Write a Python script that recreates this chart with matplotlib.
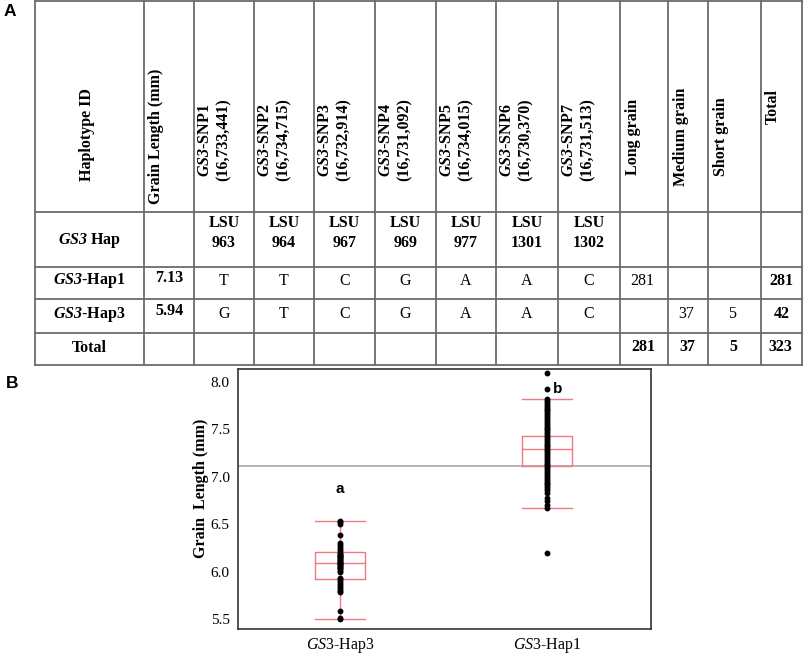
import numpy as np
import matplotlib.pyplot as plt

plt.rcParams['font.family'] = ['Liberation Serif', 'DejaVu Serif']
plt.rcParams['mathtext.fontset'] = 'custom'
plt.rcParams['mathtext.rm'] = 'Liberation Serif'
plt.rcParams['mathtext.it'] = 'Liberation Serif:italic'
plt.rcParams['mathtext.bf'] = 'Liberation Serif:bold'
plt.rcParams['mathtext.bfit'] = 'Liberation Serif:italic:bold'

# ---- table data (panel A)
snp_names = ['SNP1', 'SNP2', 'SNP3', 'SNP4', 'SNP5', 'SNP6', 'SNP7']
snp_pos = ['16,733,441', '16,734,715', '16,732,914', '16,731,092',
           '16,734,015', '16,730,370', '16,731,513']
lsu_ids = ['963', '964', '967', '969', '977', '1301', '1302']
hap_names = ['Hap1', 'Hap3']
hap_grain_len = ['7.13', '5.94']
hap1_alleles = ['T', 'T', 'C', 'G', 'A', 'A', 'C']
hap3_alleles = ['G', 'T', 'C', 'G', 'A', 'A', 'C']
long_grain = [281, None]
medium_grain = [None, 37]
short_grain = [None, 5]
hap_total = [281, 42]
col_totals = [281, 37, 5, 323]

# ---- box plot data (panel B)
groups = ['Hap3', 'Hap1']
hap3_len = [5.50, 5.51, 5.58, 5.78, 5.80, 5.82, 5.84, 5.86, 5.88, 5.90, 5.92,
            5.93, 6.00, 6.01, 6.03, 6.04, 6.05, 6.06, 6.07, 6.08, 6.09, 6.09,
            6.10, 6.11, 6.12, 6.13, 6.14, 6.15, 6.16, 6.17, 6.18, 6.19, 6.20,
            6.22, 6.24, 6.26, 6.28, 6.30, 6.39, 6.50, 6.52, 6.53]
hap1_len = [6.20, 6.67, 6.70, 6.74, 6.78, 6.83, 6.86, 6.88, 6.90, 6.92, 6.94,
            6.96, 6.98, 7.00, 7.02, 7.04, 7.06, 7.08, 7.10, 7.12, 7.14, 7.16,
            7.18, 7.20, 7.22, 7.24, 7.26, 7.28, 7.30, 7.32, 7.34, 7.36, 7.38,
            7.40, 7.42, 7.44, 7.46, 7.48, 7.50, 7.52, 7.54, 7.56, 7.58, 7.60,
            7.62, 7.64, 7.66, 7.68, 7.70, 7.72, 7.74, 7.76, 7.78, 7.80, 7.82,
            7.93, 8.10]
box_q1 = [5.92, 7.115]
box_med = [6.09, 7.29]
box_q3 = [6.21, 7.43]
whis_lo = [5.50, 6.67]
whis_hi = [6.53, 7.82]
sig_letters = ['a', 'b']
sig_y = [6.87, 7.93]
ref_line = 7.115

fig = plt.figure(figsize=(8.09, 6.54), dpi=100)

# table drawn in pixel coordinates
tab = fig.add_axes([0, 0, 1, 1])
tab.set_xlim(0, 809)
tab.set_ylim(654, 0)
tab.axis('off')

col_edges = [35, 144, 194, 254, 314, 375, 436, 496, 558, 620, 668, 708, 761, 802]
row_edges = [1, 212, 267, 299, 333, 365]
gc = '#6b6b6b'
for x in col_edges:
    tab.plot([x, x], [row_edges[0], row_edges[-1]], color=gc, lw=1.3)
for y in row_edges:
    tab.plot([col_edges[0], col_edges[-1]], [y, y], color=gc, lw=1.3)

fs = 11.5
centers = [(col_edges[i] + col_edges[i + 1]) / 2 for i in range(len(col_edges) - 1)]

# header row
tab.text(centers[0] - 2, 135, 'Haplotype ID', rotation=90, ha='center', va='center',
         fontsize=fs, fontweight='bold')
tab.text(col_edges[1] + 4, 136, 'Grain Length (mm)', rotation=90, ha='left',
         va='center', fontsize=fs, fontweight='bold')
for i, (nm, pos) in enumerate(zip(snp_names, snp_pos)):
    tab.text(col_edges[2 + i] + 3, 140, r'$\mathbfit{GS3}$-' + nm + '\n(' + pos + ')',
             rotation=90, ha='left', va='center', multialignment='center',
             fontsize=fs, fontweight='bold')
for j, lab in enumerate(['Long grain', 'Medium grain', 'Short grain']):
    tab.text(col_edges[9 + j] + 5, 137, lab, rotation=90, ha='left', va='center',
             fontsize=fs, fontweight='bold')
tab.text(col_edges[12] + 4, 107, 'Total', rotation=90, ha='left', va='center',
         fontsize=fs, fontweight='bold')

# GS3 Hap row
tab.text(centers[0], 241, r'$\mathbfit{GS3}$ Hap', ha='center', va='center',
         fontsize=fs, fontweight='bold')
for i, lsu in enumerate(lsu_ids):
    tab.text(centers[2 + i], 233, 'LSU\n' + lsu, ha='center', va='center',
             fontsize=fs, fontweight='bold', linespacing=1.4)

# haplotype rows
allele_rows = [hap1_alleles, hap3_alleles]
row_y = [281, 314]
for r in range(2):
    y = row_y[r]
    tab.text(centers[0], y, r'$\mathbfit{GS3}$-' + hap_names[r], ha='center',
             va='center', fontsize=fs, fontweight='bold')
    tab.text(centers[1], y - 3, hap_grain_len[r], ha='center', va='center',
             fontsize=fs, fontweight='bold')
    for i, a in enumerate(allele_rows[r]):
        tab.text(centers[2 + i], y, a, ha='center', va='center', fontsize=fs)
    for j, v in enumerate([long_grain[r], medium_grain[r], short_grain[r]]):
        if v is not None:
            tab.text(centers[9 + j] - 2, y, str(v), ha='center', va='center', fontsize=fs)
    tab.text(centers[12], y, str(hap_total[r]), ha='center', va='center',
             fontsize=fs, fontweight='bold')

# total row
tab.text(centers[0], 348, 'Total', ha='center', va='center', fontsize=fs,
         fontweight='bold')
for j, v in enumerate(col_totals):
    tab.text(centers[9 + j] - 1, 347, str(v), ha='center', va='center',
             fontsize=fs, fontweight='bold')

# panel labels
tab.text(10, 12, 'A', ha='center', va='center', fontsize=12.5, fontweight='bold',
         family='Liberation Sans')
tab.text(12, 383, 'B', ha='center', va='center', fontsize=12.5, fontweight='bold',
         family='Liberation Sans')

# ---- box plot
ax = fig.add_axes([238 / 809, 1 - 629 / 654, (651 - 238) / 809, (629 - 369) / 654])
red = '#f27684'
stats = []
for k in range(2):
    stats.append({'q1': box_q1[k], 'med': box_med[k], 'q3': box_q3[k],
                  'whislo': whis_lo[k], 'whishi': whis_hi[k], 'fliers': [],
                  'label': groups[k]})
ax.bxp(stats, positions=[1, 2], widths=0.24, capwidths=0.24, showfliers=False,
       boxprops=dict(color=red, lw=1), whiskerprops=dict(color=red, lw=1),
       capprops=dict(color=red, lw=1), medianprops=dict(color=red, lw=1))
for k, vals in enumerate([hap3_len, hap1_len]):
    ax.plot(np.full(len(vals), k + 1), vals, 'o', color='black', ms=3.2, zorder=3)
    ax.text(k + 1 + (0.05 if k == 1 else 0), sig_y[k], sig_letters[k], ha='center',
            va='center', fontsize=11, fontweight='bold', family='Liberation Sans')
ax.axhline(ref_line, color='#a8a8a8', lw=1.2, zorder=1)

ax.set_xlim(0.507, 2.502)
ax.set_ylim(5.395, 8.137)
ax.set_yticks([5.5, 6.0, 6.5, 7.0, 7.5, 8.0])
ax.set_yticklabels(['5.5', '6.0', '6.5', '7.0', '7.5', '8.0'])
ax.set_xticks([1, 2])
ax.set_xticklabels([r'$\mathit{GS3}$-' + g for g in groups], fontsize=11.5)
ax.tick_params(axis='y', length=0, pad=6, labelsize=11)
ax.tick_params(axis='x', length=0, pad=5)
ax.set_ylabel('Grain  Length (mm)', fontsize=11.5, fontweight='bold')
ax.yaxis.set_label_coords(-0.07, 0.54)
for s in ax.spines.values():
    s.set_color('#333333')
    s.set_linewidth(1.2)

fig.savefig('out.png', dpi=100)
